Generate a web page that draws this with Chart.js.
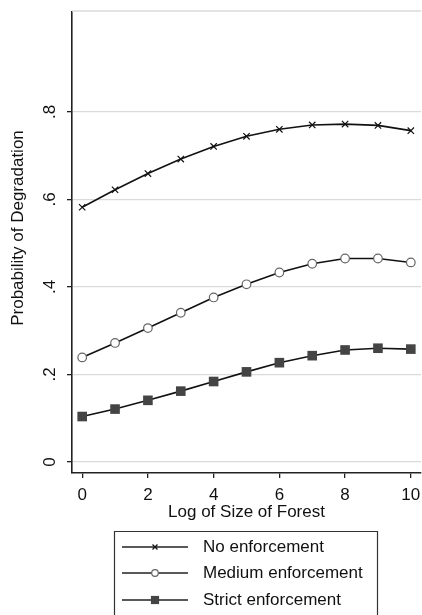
<!DOCTYPE html>
<html lang="en">
<head>
    <meta charset="UTF-8">
    <title>Probability of Degradation</title>
    <script src="https://cdn.jsdelivr.net/npm/chart.js"></script>
    <style>
        body { margin: 0; background: #fff; }
        #wrap { width: 422px; height: 615px; position: relative; }
    </style>
</head>
<body>

<div id="wrap"><canvas id="degradationChart"></canvas></div>

<script>
// values
const logSize = [0, 1, 2, 3, 4, 5, 6, 7, 8, 9, 10];
const noEnforcement = [0.582, 0.622, 0.659, 0.692, 0.721, 0.744, 0.760, 0.770, 0.772, 0.769, 0.757];
const mediumEnforcement = [0.239, 0.272, 0.306, 0.341, 0.376, 0.406, 0.433, 0.453, 0.465, 0.465, 0.456];
const strictEnforcement = [0.104, 0.121, 0.141, 0.162, 0.184, 0.206, 0.227, 0.243, 0.256, 0.260, 0.258];
const xTicks = [0, 2, 4, 6, 8, 10];
const yTicks = [0, 0.2, 0.4, 0.6, 0.8];
const yTickLabels = ["0", ".2", ".4", ".6", ".8"];
const seriesNames = ["No enforcement", "Medium enforcement", "Strict enforcement"];

const FONT = "17px 'Liberation Sans', Arial, sans-serif";

function toPoints(ys) {
    return logSize.map((x, i) => ({ x: x, y: ys[i] }));
}

// titles, rotated y labels and the boxed legend
const stataText = {
    id: "stataText",
    afterDraw(chart) {
        const ctx = chart.ctx;
        const area = chart.chartArea;
        const xs = chart.scales.x, ys = chart.scales.y;
        ctx.save();

        // plot region top edge
        ctx.strokeStyle = "#dadada";
        ctx.lineWidth = 1.5;
        ctx.beginPath();
        ctx.moveTo(area.left, area.top - 1);
        ctx.lineTo(area.right, area.top - 1);
        ctx.stroke();

        ctx.fillStyle = "#111";
        ctx.font = FONT;

        // x tick labels
        ctx.textAlign = "center";
        ctx.textBaseline = "middle";
        xTicks.forEach(v => ctx.fillText(String(v), xs.getPixelForValue(v), 495));

        // y tick labels, rotated like Stata does
        yTicks.forEach((v, i) => {
            ctx.save();
            ctx.translate(50, ys.getPixelForValue(v));
            ctx.rotate(-Math.PI / 2);
            ctx.fillText(yTickLabels[i], 0, 0);
            ctx.restore();
        });

        // axis titles
        ctx.fillText("Log of Size of Forest", (area.left + area.right) / 2, 512);
        ctx.save();
        ctx.translate(18, 228);
        ctx.rotate(-Math.PI / 2);
        ctx.fillText("Probability of Degradation", 0, 0);
        ctx.restore();

        // legend box
        ctx.strokeStyle = "#333";
        ctx.lineWidth = 1.2;
        ctx.beginPath();
        ctx.moveTo(114.5, 620);
        ctx.lineTo(114.5, 531.5);
        ctx.lineTo(377.5, 531.5);
        ctx.lineTo(377.5, 620);
        ctx.stroke();

        const rows = [547, 573, 600];
        chart.data.datasets.forEach((ds, i) => {
            const y = rows[i];
            ctx.strokeStyle = "#222";
            ctx.lineWidth = 1.5;
            ctx.beginPath();
            ctx.moveTo(122, y);
            ctx.lineTo(188, y);
            ctx.stroke();
            ctx.fillStyle = ds.pointBackgroundColor;
            ctx.strokeStyle = ds.pointBorderColor;
            ctx.lineWidth = ds.pointBorderWidth;
            if (ds.pointStyle === "circle") {
                ctx.beginPath();
                ctx.arc(155, y, ds.legendRadius, 0, Math.PI * 2);
                ctx.fill();
                ctx.stroke();
            } else {
                Chart.helpers.drawPoint(ctx, {
                    pointStyle: ds.pointStyle,
                    radius: ds.legendRadius,
                    borderWidth: ds.pointBorderWidth
                }, 155, y);
            }
            ctx.fillStyle = "#111";
            ctx.textAlign = "left";
            ctx.fillText(seriesNames[i], 203, y);
        });

        ctx.restore();
    }
};

new Chart(document.getElementById("degradationChart"), {
    type: "line",
    data: {
        datasets: [
            {
                label: seriesNames[0],
                data: toPoints(noEnforcement),
                borderColor: "#111",
                borderWidth: 1.6,
                pointStyle: "crossRot",
                pointRadius: 4.5,
                legendRadius: 3.5,
                pointBorderColor: "#111",
                pointBackgroundColor: "#111",
                pointBorderWidth: 1.2
            },
            {
                label: seriesNames[1],
                data: toPoints(mediumEnforcement),
                borderColor: "#111",
                borderWidth: 1.6,
                pointStyle: "circle",
                pointRadius: 4.3,
                legendRadius: 3.3,
                pointBorderColor: "#666",
                pointBackgroundColor: "#fff",
                pointBorderWidth: 1.2
            },
            {
                label: seriesNames[2],
                data: toPoints(strictEnforcement),
                borderColor: "#111",
                borderWidth: 1.6,
                pointStyle: "rect",
                pointRadius: 6.8,
                legendRadius: 5.8,
                pointBorderColor: "#444",
                pointBackgroundColor: "#444",
                pointBorderWidth: 0
            }
        ]
    },
    options: {
        responsive: true,
        maintainAspectRatio: false,
        animation: false,
        devicePixelRatio: 1,
        layout: { autoPadding: false, padding: { top: 12, right: 1, left: 0, bottom: 0 } },
        plugins: {
            legend: { display: false },
            tooltip: { enabled: false }
        },
        scales: {
            x: {
                type: "linear",
                min: -0.31,
                max: 10.31,
                afterBuildTicks: s => { s.ticks = xTicks.map(v => ({ value: v })); },
                afterFit: s => { s.height = 142; },
                ticks: { display: false },
                grid: { drawOnChartArea: false, tickLength: 5, tickColor: "#222", lineWidth: 1.3 },
                border: { color: "#222", width: 1.6 }
            },
            y: {
                min: -0.025,
                max: 1.028,
                afterBuildTicks: s => { s.ticks = yTicks.map(v => ({ value: v })); },
                afterFit: s => { s.width = 72; },
                ticks: { display: false },
                grid: { color: "#dadada", lineWidth: 1.3, tickLength: 5, tickColor: "#222" },
                border: { color: "#222", width: 1.6 }
            }
        }
    },
    plugins: [stataText]
});
</script>

</body>
</html>
